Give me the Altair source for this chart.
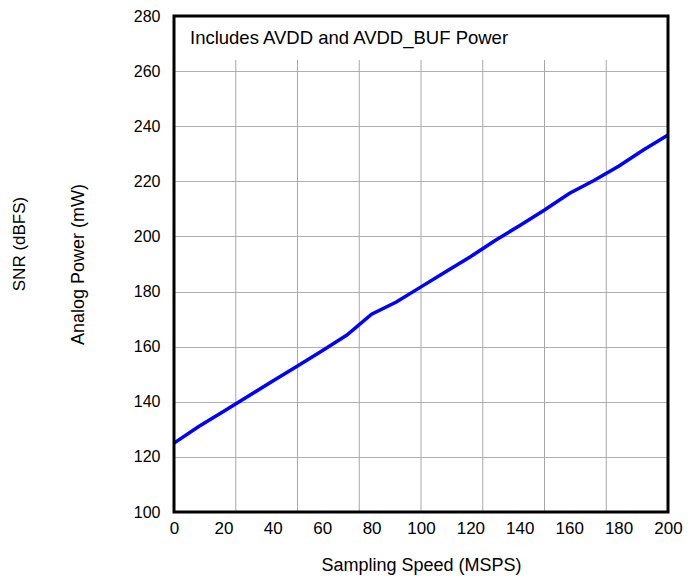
import altair as alt
import pandas as pd

# Data
speed = [0, 10, 20, 30, 40, 50, 60, 70, 80, 90, 100, 110, 120, 130, 140, 150, 160, 170, 180, 190, 200]
power = [125.0, 131.0, 136.5, 142.0, 147.5, 153.0, 158.5, 164.2, 171.8, 176.2, 181.7, 187.2, 192.6, 198.5, 204.0, 209.6, 215.6, 220.3, 225.5, 231.4, 236.8]
x_ticks = [0, 20, 40, 60, 80, 100, 120, 140, 160, 180, 200]
x_grid = [25, 50, 75, 100, 125, 150, 175]
y_ticks = [100, 120, 140, 160, 180, 200, 220, 240, 260, 280]
note = "Includes AVDD and AVDD_BUF Power"

W, H = 494, 496
FONT = "Liberation Sans"

df = pd.DataFrame({"speed": speed, "power": power})
grid_df = pd.DataFrame({"speed": x_grid})
one = pd.DataFrame({"a": [0]})

xscale = alt.Scale(domain=[0, 200], nice=False, zero=False)
yscale = alt.Scale(domain=[100, 280], nice=False, zero=False)

xaxis = alt.Axis(values=x_ticks, grid=False, ticks=False, domain=False,
                 labelFont=FONT, labelFontSize=17, labelColor="black",
                 labelPadding=8, labelFlush=False,
                 title="Sampling Speed (MSPS)", titleFont=FONT,
                 titleFontSize=18, titleFontWeight="normal",
                 titleColor="black", titleX=W / 2, titleY=53,
                 titleBaseline="middle", titleAlign="center")

vgrid = alt.Chart(grid_df).mark_rule(color="#a8a8a8", strokeWidth=1).encode(
    x=alt.X("speed:Q", scale=xscale, axis=xaxis)
)

band = alt.Chart(one).mark_rect(color="white").encode(
    x=alt.value(0), x2=alt.value(W), y=alt.value(0), y2=alt.value(44)
)

line = alt.Chart(df).mark_line(color="#0000ff", strokeWidth=3.5).encode(
    x=alt.X("speed:Q", scale=xscale, axis=xaxis),
    y=alt.Y("power:Q", scale=yscale,
            axis=alt.Axis(values=y_ticks, grid=True, gridColor="#b0b0b0",
                          gridWidth=1, ticks=False, domain=False,
                          labelFont=FONT, labelFontSize=16, labelColor="black",
                          labelPadding=14, labelFlush=False,
                          title="Analog Power (mW)", titleFont=FONT,
                          titleFontSize=18, titleFontWeight="normal",
                          titleColor="black", titleX=-96, titleY=H / 2,
                          titleAngle=270, titleBaseline="middle",
                          titleAlign="center")),
)

txt = alt.Chart(one).mark_text(
    text=note, font=FONT, fontSize=18.5, color="black", align="left", baseline="alphabetic"
).encode(x=alt.value(16), y=alt.value(28))

snr = alt.Chart(one).mark_text(
    text="SNR (dBFS)", font=FONT, fontSize=17, color="black", align="center",
    baseline="middle", angle=270
).encode(x=alt.value(-154), y=alt.value(228))

frame = alt.Chart(one).mark_rect(fill=None, stroke="black", strokeWidth=3).encode(
    x=alt.value(0), x2=alt.value(W), y=alt.value(0), y2=alt.value(H)
)

chart = alt.layer(vgrid, band, line, txt, snr, frame).properties(
    width=W, height=H,
    padding={"left": 166, "top": 8, "right": 15, "bottom": 64},
    autosize=alt.AutoSizeParams(type="none"),
).configure_view(stroke=None)

chart.save("out.html", embed_options={"renderer": "svg", "actions": False})
